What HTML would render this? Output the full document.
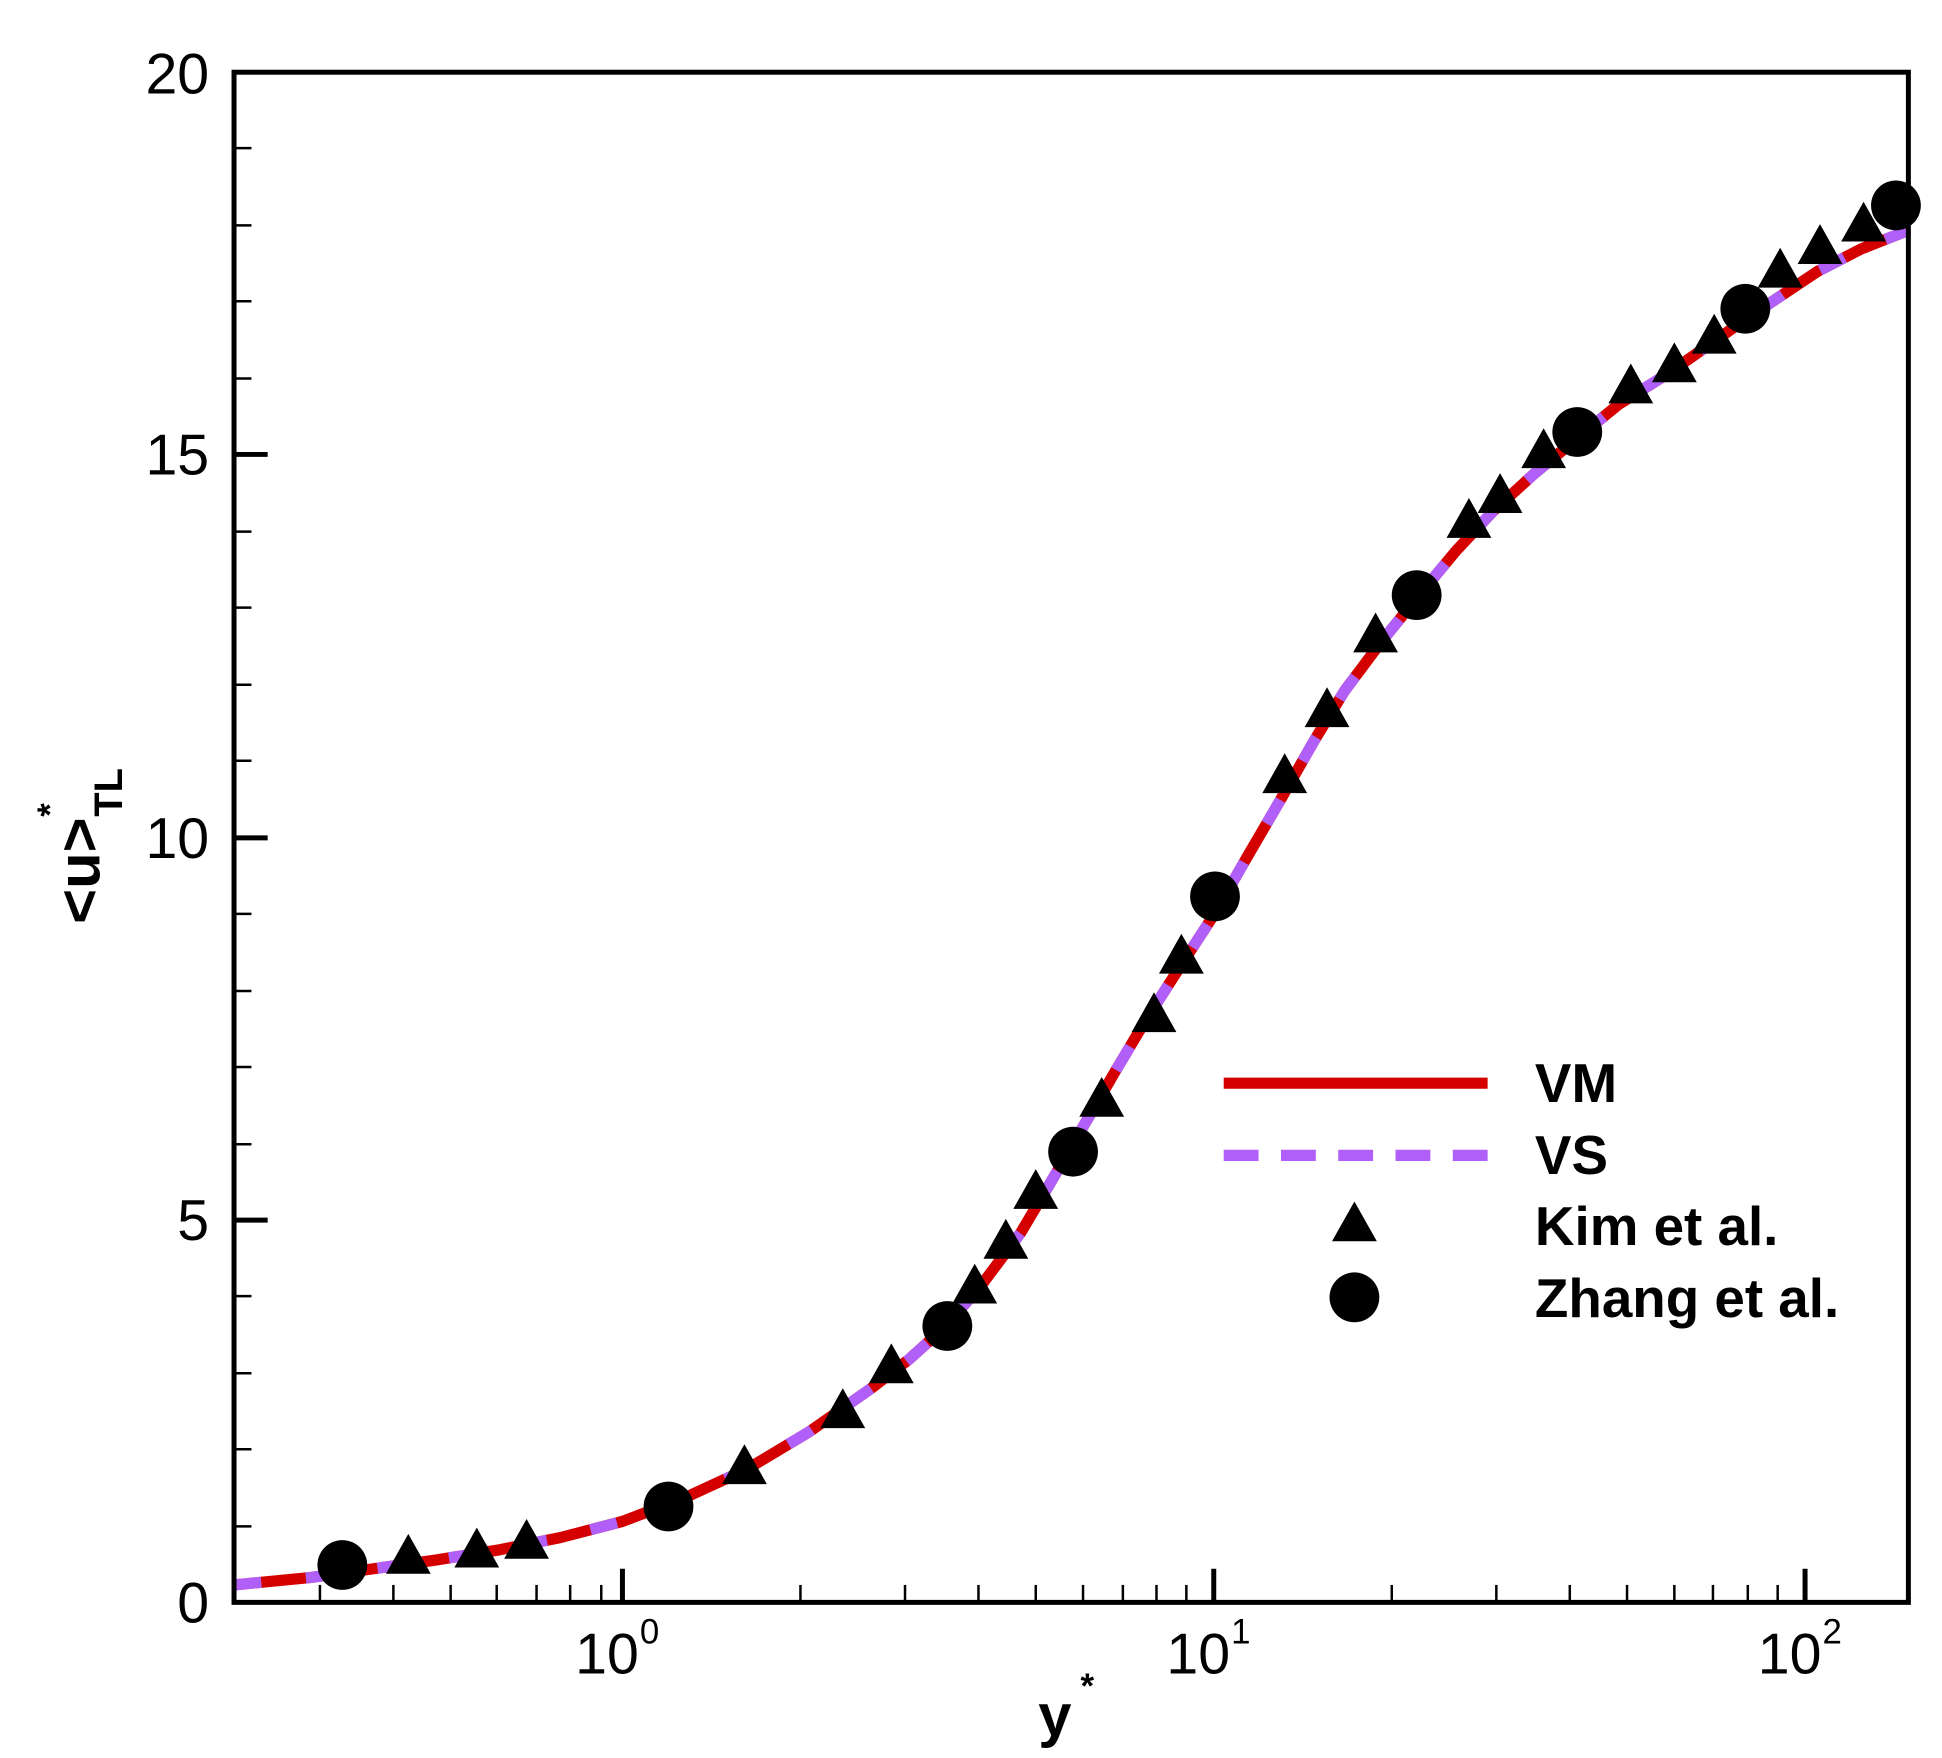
<!DOCTYPE html>
<html><head><meta charset="utf-8"><style>html,body{margin:0;padding:0;background:#fff}svg{display:block}</style></head>
<body>
<svg width="1942" height="1758" viewBox="0 0 1560 1412" preserveAspectRatio="none" xmlns="http://www.w3.org/2000/svg" font-family="Liberation Sans, Arial, sans-serif">
<rect width="1560" height="1412" fill="#fff"/>
<g stroke="#000" stroke-width="2">
<line x1="188" y1="1226" x2="202" y2="1226"/><line x1="188" y1="1164" x2="202" y2="1164"/><line x1="188" y1="1103" x2="202" y2="1103"/><line x1="188" y1="1041" x2="202" y2="1041"/>
<line x1="188" y1="919" x2="202" y2="919"/><line x1="188" y1="857" x2="202" y2="857"/><line x1="188" y1="796" x2="202" y2="796"/><line x1="188" y1="734" x2="202" y2="734"/>
<line x1="188" y1="611" x2="202" y2="611"/><line x1="188" y1="550" x2="202" y2="550"/><line x1="188" y1="488" x2="202" y2="488"/><line x1="188" y1="427" x2="202" y2="427"/>
<line x1="188" y1="304" x2="202" y2="304"/><line x1="188" y1="242" x2="202" y2="242"/><line x1="188" y1="181" x2="202" y2="181"/><line x1="188" y1="119" x2="202" y2="119"/>
<line x1="257" y1="1287" x2="257" y2="1273"/><line x1="316" y1="1287" x2="316" y2="1273"/><line x1="362" y1="1287" x2="362" y2="1273"/><line x1="399" y1="1287" x2="399" y2="1273"/><line x1="431" y1="1287" x2="431" y2="1273"/><line x1="458" y1="1287" x2="458" y2="1273"/><line x1="483" y1="1287" x2="483" y2="1273"/>
<line x1="643" y1="1287" x2="643" y2="1273"/><line x1="727" y1="1287" x2="727" y2="1273"/><line x1="786" y1="1287" x2="786" y2="1273"/><line x1="832" y1="1287" x2="832" y2="1273"/><line x1="870" y1="1287" x2="870" y2="1273"/><line x1="902" y1="1287" x2="902" y2="1273"/><line x1="929" y1="1287" x2="929" y2="1273"/><line x1="953" y1="1287" x2="953" y2="1273"/>
<line x1="1118" y1="1287" x2="1118" y2="1273"/><line x1="1202" y1="1287" x2="1202" y2="1273"/><line x1="1261" y1="1287" x2="1261" y2="1273"/><line x1="1307" y1="1287" x2="1307" y2="1273"/><line x1="1345" y1="1287" x2="1345" y2="1273"/><line x1="1376" y1="1287" x2="1376" y2="1273"/><line x1="1404" y1="1287" x2="1404" y2="1273"/><line x1="1428" y1="1287" x2="1428" y2="1273"/>
</g>
<g stroke="#000" stroke-width="4">
<line x1="188" y1="980" x2="215" y2="980"/><line x1="188" y1="673" x2="215" y2="673"/><line x1="188" y1="365" x2="215" y2="365"/>
<line x1="500" y1="1287" x2="500" y2="1260"/><line x1="975" y1="1287" x2="975" y2="1260"/><line x1="1450" y1="1287" x2="1450" y2="1260"/>
</g>
<polyline fill="none" stroke="#d40000" stroke-width="9" stroke-linejoin="round" points="188,1273 250,1267 300,1260 350,1253 400,1245 450,1235 500,1222 550,1203 600,1180 650,1150 700,1115 730,1092 760,1065 790,1030 820,990 845,948 870,905 895,862 920,820 947,778 975,735 1002,688 1030,640 1055,596 1080,555 1110,515 1140,478 1170,442 1200,410 1233,380 1267,352 1300,325 1340,300 1370,279 1400,258 1430,238 1460,218 1495,200 1533,185"/>
<polyline fill="none" stroke="#b060f8" stroke-width="9" stroke-dasharray="22 36" stroke-linejoin="round" points="188,1273 250,1267 300,1260 350,1253 400,1245 450,1235 500,1222 550,1203 600,1180 650,1150 700,1115 730,1092 760,1065 790,1030 820,990 845,948 870,905 895,862 920,820 947,778 975,735 1002,688 1030,640 1055,596 1080,555 1110,515 1140,478 1170,442 1200,410 1233,380 1267,352 1300,325 1340,300 1370,279 1400,258 1430,238 1460,218 1495,200 1533,185"/>
<g fill="#000">
<path d="M0,-18 L18,14 L-18,14 Z" transform="translate(328,1250)"/>
<path d="M0,-18 L18,14 L-18,14 Z" transform="translate(383,1245)"/>
<path d="M0,-18 L18,14 L-18,14 Z" transform="translate(423,1238)"/>
<path d="M0,-18 L18,14 L-18,14 Z" transform="translate(598,1178)"/>
<path d="M0,-18 L18,14 L-18,14 Z" transform="translate(677,1133)"/>
<path d="M0,-18 L18,14 L-18,14 Z" transform="translate(716,1097)"/>
<path d="M0,-18 L18,14 L-18,14 Z" transform="translate(783,1033)"/>
<path d="M0,-18 L18,14 L-18,14 Z" transform="translate(808,997)"/>
<path d="M0,-18 L18,14 L-18,14 Z" transform="translate(832,957)"/>
<path d="M0,-18 L18,14 L-18,14 Z" transform="translate(885,883)"/>
<path d="M0,-18 L18,14 L-18,14 Z" transform="translate(927,815)"/>
<path d="M0,-18 L18,14 L-18,14 Z" transform="translate(949,768)"/>
<path d="M0,-18 L18,14 L-18,14 Z" transform="translate(1032,623)"/>
<path d="M0,-18 L18,14 L-18,14 Z" transform="translate(1066,570)"/>
<path d="M0,-18 L18,14 L-18,14 Z" transform="translate(1105,510)"/>
<path d="M0,-18 L18,14 L-18,14 Z" transform="translate(1180,418)"/>
<path d="M0,-18 L18,14 L-18,14 Z" transform="translate(1205,398)"/>
<path d="M0,-18 L18,14 L-18,14 Z" transform="translate(1240,362)"/>
<path d="M0,-18 L18,14 L-18,14 Z" transform="translate(1310,310)"/>
<path d="M0,-18 L18,14 L-18,14 Z" transform="translate(1345,293)"/>
<path d="M0,-18 L18,14 L-18,14 Z" transform="translate(1377,270)"/>
<path d="M0,-18 L18,14 L-18,14 Z" transform="translate(1430,217)"/>
<path d="M0,-18 L18,14 L-18,14 Z" transform="translate(1462,198)"/>
<path d="M0,-18 L18,14 L-18,14 Z" transform="translate(1497,180)"/>
<circle cx="275" cy="1257" r="20"/><circle cx="537" cy="1210" r="20"/><circle cx="761" cy="1065" r="20"/><circle cx="862" cy="925" r="20"/><circle cx="976" cy="720" r="20"/><circle cx="1138" cy="478" r="20"/><circle cx="1267" cy="347" r="20"/><circle cx="1402" cy="248" r="20"/><circle cx="1523" cy="165" r="20"/>
</g>
<rect x="188" y="58" width="1345" height="1229" fill="none" stroke="#000" stroke-width="4"/>
<g font-size="46" fill="#000" text-anchor="end">
<text x="168" y="1303">0</text><text x="168" y="996">5</text><text x="168" y="689">10</text><text x="168" y="381">15</text><text x="168" y="75">20</text>
</g>
<g font-size="46" fill="#000">
<text x="462" y="1344">10</text><text x="514" y="1320" font-size="28">0</text>
<text x="937" y="1344">10</text><text x="989" y="1320" font-size="28">1</text>
<text x="1412" y="1344">10</text><text x="1464" y="1320" font-size="28">2</text>
</g>
<text x="834" y="1394" font-size="48" font-weight="bold">y</text><text x="868" y="1364" font-size="28" font-weight="bold">*</text>
<g transform="translate(80,742) rotate(-90)" font-weight="bold">
<text x="0" y="0" font-size="48">&lt;u&gt;</text><text x="86" y="-30" font-size="28">*</text><text x="86" y="18" font-size="32">TL</text>
</g>
<line x1="983" y1="870" x2="1195" y2="870" stroke="#d40000" stroke-width="9"/>
<line x1="983" y1="928" x2="1195" y2="928" stroke="#b060f8" stroke-width="9" stroke-dasharray="28 18"/>
<path d="M0,-18 L18,14 L-18,14 Z" transform="translate(1088,983)"/>
<circle cx="1088" cy="1042" r="20"/>
<g font-size="44" font-weight="bold">
<text x="1233" y="885">VM</text><text x="1233" y="943">VS</text><text x="1233" y="1000">Kim et al.</text><text x="1233" y="1058">Zhang et al.</text>
</g>
</svg>
</body></html>
